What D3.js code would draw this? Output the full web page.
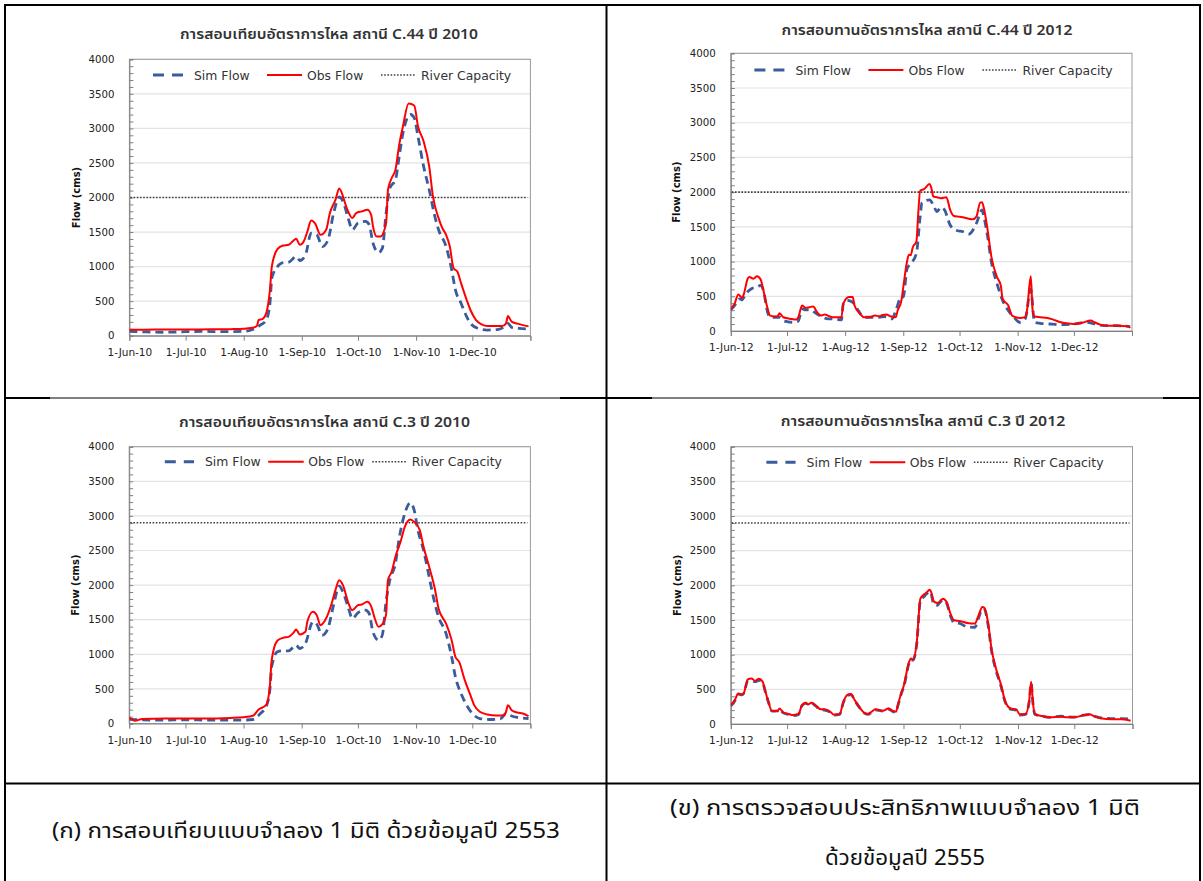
<!DOCTYPE html>
<html><head><meta charset="utf-8">
<script src="https://cdn.jsdelivr.net/npm/d3@7"></script>
<style>
body{margin:0;background:#fff}
svg{display:block}
.lat{font-family:"DejaVu Sans",Verdana,sans-serif}
.thai{font-family:"Noto Sans Thai","Noto Sans Thai UI",Tahoma,Loma,Garuda,"Noto Sans","DejaVu Sans",sans-serif}
</style></head>
<body><svg id="c" width="1203" height="881"></svg>
<script>
// ---------------- data ----------------
const titles = [
  "การสอบเทียบอัตราการไหล สถานี C.44 ปี 2010",
  "การสอบทานอัตราการไหล สถานี C.44 ปี 2012",
  "การสอบเทียบอัตราการไหล สถานี C.3 ปี 2010",
  "การสอบทานอัตราการไหล สถานี C.3 ปี 2012"
];
const captionLeft = ["(ก) การสอบเทียบแบบจำลอง 1 มิติ ด้วยข้อมูลปี 2553"];
const captionRight = ["(ข) การตรวจสอบประสิทธิภาพแบบจำลอง 1 มิติ", "ด้วยข้อมูลปี 2555"];
const legendLabels = ["Sim Flow", "Obs Flow", "River Capacity"];
const yAxisTitle = "Flow (cms)";
const yTicks = [0, 500, 1000, 1500, 2000, 2500, 3000, 3500, 4000];
const years = [2010, 2012, 2010, 2012];
const capacityC44 = 2000;
const capacityC3 = 2900;

const simC44_2010 = [["06-01",62],["06-10",55],["06-20",50],["07-01",58],["07-10",62],["07-20",58],["08-01",62],["08-05",82],["08-10",155],["08-13",227],["08-15",469],["08-16",832],["08-19",1000],["08-22",1059],["08-25",1064],["08-29",1146],["08-31",1088],["09-03",1170],["09-06",1484],["09-09",1460],["09-12",1291],["09-15",1388],["09-18",1775],["09-21",2007],["09-23",1944],["09-26",1678],["09-28",1533],["10-01",1630],["10-05",1654],["10-07",1605],["10-09",1339],["10-12",1204],["10-14",1267],["10-16",1775],["10-18",2137],["10-21",2258],["10-23",2596],["10-25",2935],["10-29",3201],["10-31",3152],["11-02",2886],["11-05",2451],["11-08",2113],["11-11",1726],["11-13",1533],["11-17",1291],["11-20",952],["11-22",662],["11-25",469],["11-28",276],["11-30",179],["12-04",106],["12-09",82],["12-15",92],["12-18",131],["12-20",179],["12-22",121],["12-26",106],["12-31",97]];
const obsC44_2010 = [["06-01",85],["06-15",88],["07-01",90],["07-15",92],["07-25",95],["08-01",100],["08-05",110],["08-08",140],["08-09",227],["08-11",240],["08-13",324],["08-15",662],["08-16",1000],["08-19",1252],["08-22",1305],["08-25",1315],["08-28",1388],["08-29",1402],["08-31",1315],["09-02",1363],["09-04",1508],["09-06",1668],["09-08",1630],["09-11",1460],["09-14",1533],["09-16",1775],["09-19",1968],["09-21",2132],["09-22",2089],["09-25",1847],["09-28",1702],["09-30",1775],["10-03",1799],["10-06",1823],["10-08",1750],["10-09",1581],["10-11",1436],["10-13",1436],["10-16",1630],["10-17",2113],["10-19",2282],["10-21",2403],["10-23",2766],["10-25",3032],["10-28",3360],["10-31",3331],["11-02",3032],["11-05",2814],["11-08",2451],["11-10",2016],["11-13",1702],["11-15",1557],["11-17",1460],["11-19",1291],["11-21",977],["11-23",928],["11-25",759],["11-28",517],["11-30",372],["12-03",227],["12-06",164],["12-09",140],["12-17",140],["12-19",179],["12-20",285],["12-22",203],["12-25",175],["12-31",135]];

const simC44_2012 = [["06-01",304],["06-03",367],["06-06",464],["06-07",449],["06-09",536],["06-12",609],["06-15",633],["06-17",657],["06-19",512],["06-20",343],["06-22",198],["06-25",198],["06-27",198],["06-29",150],["07-01",135],["07-04",126],["07-07",140],["07-09",319],["07-11",304],["07-13",304],["07-17",246],["07-20",198],["07-23",174],["07-26",174],["07-30",159],["07-31",391],["08-02",440],["08-05",415],["08-08",295],["08-11",198],["08-15",198],["08-19",198],["08-22",208],["08-26",174],["08-28",295],["08-31",488],["09-01",488],["09-03",898],["09-05",971],["09-08",1116],["09-10",1647],["09-11",1850],["09-15",1889],["09-17",1816],["09-19",1720],["09-21",1782],["09-23",1744],["09-26",1526],["09-29",1454],["10-03",1430],["10-06",1396],["10-10",1550],["10-13",1744],["10-14",1647],["10-16",1357],["10-18",995],["10-21",681],["10-24",440],["10-27",295],["10-30",198],["11-02",126],["11-05",174],["11-08",600],["11-10",126],["11-13",111],["11-18",101],["11-24",92],["12-01",101],["12-08",126],["12-12",101],["12-17",77],["12-24",77],["12-31",63]];
const obsC44_2012 = [["06-01",319],["06-03",391],["06-05",526],["06-07",478],["06-08",536],["06-10",753],["06-11",778],["06-13",753],["06-15",787],["06-17",739],["06-18",633],["06-20",391],["06-22",222],["06-25",208],["06-26",213],["06-27",256],["06-29",198],["07-01",184],["07-03",174],["07-06",164],["07-07",198],["07-09",367],["07-11",333],["07-13",343],["07-15",353],["07-17",270],["07-19",222],["07-21",237],["07-24",208],["07-26",198],["07-30",198],["07-31",391],["08-03",488],["08-05",488],["08-06",367],["08-09",246],["08-11",198],["08-14",198],["08-17",222],["08-19",213],["08-21",232],["08-23",237],["08-25",213],["08-28",198],["08-29",295],["08-31",440],["09-01",633],["09-03",1000],["09-04",1100],["09-05",1090],["09-06",1200],["09-08",1290],["09-09",1700],["09-10",2024],["09-12",2043],["09-15",2116],["09-16",2058],["09-17",1937],["09-19",1927],["09-21",1913],["09-24",1927],["09-26",1744],["09-28",1657],["10-01",1647],["10-05",1623],["10-08",1608],["10-10",1647],["10-12",1850],["10-13",1855],["10-14",1768],["10-16",1454],["10-18",1067],["10-21",778],["10-23",657],["10-24",464],["10-27",367],["10-29",222],["10-31",198],["11-02",188],["11-05",198],["11-06",295],["11-08",787],["11-09",295],["11-10",208],["11-13",198],["11-17",188],["11-20",164],["11-24",126],["11-27",111],["12-01",101],["12-05",116],["12-10",150],["12-12",126],["12-15",92],["12-19",77],["12-24",77],["12-30",68],["12-31",43]];

const simC3_2010 = [["06-01",60],["06-15",50],["07-01",52],["07-15",50],["08-01",50],["08-06",58],["08-10",145],["08-13",241],["08-15",482],["08-16",819],["08-19",1036],["08-22",1050],["08-25",1050],["08-29",1132],["08-31",1084],["09-03",1156],["09-07",1469],["09-09",1435],["09-12",1277],["09-15",1373],["09-18",1710],["09-21",1985],["09-23",1903],["09-26",1662],["09-28",1517],["10-01",1599],["10-05",1638],["10-07",1590],["10-09",1325],["10-12",1204],["10-14",1277],["10-16",1758],["10-18",2071],["10-21",2312],["10-23",2673],["10-26",3035],["10-29",3189],["10-31",3083],["11-02",2794],["11-05",2505],["11-08",2119],["11-10",1855],["11-13",1541],["11-17",1301],["11-20",963],["11-22",674],["11-25",434],["11-28",265],["12-01",145],["12-05",72],["12-10",58],["12-16",67],["12-19",145],["12-21",120],["12-25",87],["12-31",72]];
const obsC3_2010 = [["06-01",87],["06-04",40],["06-08",65],["06-20",72],["07-10",72],["07-25",80],["08-01",90],["08-06",111],["08-09",202],["08-13",265],["08-15",530],["08-16",915],["08-19",1195],["08-22",1238],["08-25",1252],["08-28",1325],["08-29",1358],["08-31",1286],["09-03",1325],["09-04",1469],["09-07",1614],["09-09",1566],["09-11",1421],["09-14",1517],["09-17",1734],["09-19",1927],["09-21",2071],["09-23",1999],["09-26",1734],["09-28",1638],["10-01",1710],["10-03",1720],["10-06",1758],["10-08",1696],["10-10",1517],["10-12",1397],["10-14",1435],["10-16",1566],["10-17",2071],["10-19",2192],["10-21",2409],["10-24",2649],["10-26",2842],["10-29",2948],["10-31",2914],["11-03",2794],["11-05",2553],["11-08",2264],["11-11",1951],["11-13",1662],["11-17",1445],["11-20",1204],["11-22",963],["11-24",891],["11-27",626],["11-30",409],["12-02",265],["12-05",169],["12-09",130],["12-14",116],["12-18",116],["12-19",169],["12-20",265],["12-22",193],["12-25",159],["12-28",145],["12-31",106]];

const simC3_2012 = [["06-01",260],["06-03",330],["06-05",430],["06-07",420],["06-08",445],["06-10",620],["06-12",625],["06-14",610],["06-16",630],["06-18",600],["06-19",505],["06-21",320],["06-23",185],["06-26",190],["06-27",215],["06-29",160],["07-02",135],["07-04",120],["07-07",135],["07-09",270],["07-11",300],["07-12",280],["07-14",300],["07-16",265],["07-19",205],["07-21",200],["07-24",170],["07-26",130],["07-29",140],["07-31",315],["08-02",410],["08-04",425],["08-06",340],["08-09",220],["08-11",160],["08-13",140],["08-15",170],["08-17",205],["08-21",185],["08-24",215],["08-26",185],["08-28",170],["08-29",260],["08-31",450],["09-01",520],["09-04",880],["09-05",930],["09-06",920],["09-08",1140],["09-10",1780],["09-12",1840],["09-13",1870],["09-15",1910],["09-16",1850],["09-17",1730],["09-19",1712],["09-20",1740],["09-22",1790],["09-24",1740],["09-26",1560],["09-28",1460],["10-01",1450],["10-05",1400],["10-09",1395],["10-11",1530],["10-13",1660],["10-14",1660],["10-16",1440],["10-18",1040],["10-20",800],["10-23",540],["10-25",330],["10-28",215],["10-31",200],["11-02",130],["11-05",140],["11-07",330],["11-08",590],["11-09",290],["11-10",140],["11-14",110],["11-18",95],["11-24",115],["11-27",105],["12-01",100],["12-05",125],["12-09",135],["12-12",110],["12-15",90],["12-21",77],["12-26",77],["12-31",70]];
const obsC3_2012 = [["06-01",273],["06-03",336],["06-05",441],["06-07",427],["06-08",451],["06-10",643],["06-12",657],["06-14",623],["06-16",652],["06-18",609],["06-19",513],["06-21",321],["06-23",187],["06-26",192],["06-27",225],["06-29",163],["07-02",144],["07-04",129],["07-07",144],["07-09",273],["07-11",307],["07-12",283],["07-14",307],["07-16",273],["07-19",211],["07-21",211],["07-24",177],["07-26",134],["07-29",144],["07-31",321],["08-02",417],["08-04",432],["08-06",345],["08-09",225],["08-11",163],["08-13",144],["08-15",177],["08-17",211],["08-21",192],["08-24",225],["08-26",192],["08-28",177],["08-29",273],["08-31",465],["09-01",537],["09-04",897],["09-05",945],["09-06",930],["09-08",1161],["09-10",1808],["09-12",1870],["09-13",1890],["09-15",1938],["09-16",1880],["09-17",1775],["09-19",1746],["09-20",1760],["09-22",1808],["09-24",1760],["09-26",1592],["09-28",1496],["10-01",1487],["10-05",1458],["10-09",1448],["10-11",1568],["10-13",1688],["10-14",1679],["10-16",1472],["10-18",1065],["10-20",825],["10-23",561],["10-25",345],["10-28",225],["10-31",211],["11-02",139],["11-05",144],["11-07",345],["11-08",609],["11-09",297],["11-10",144],["11-14",115],["11-18",96],["11-24",106],["11-27",96],["12-01",96],["12-05",120],["12-09",139],["12-12",106],["12-15",82],["12-21",67],["12-26",67],["12-31",48]];

const seriesSim = [simC44_2010, simC44_2012, simC3_2010, simC3_2012];
const seriesObs = [obsC44_2010, obsC44_2012, obsC3_2010, obsC3_2012];
const capacities = [capacityC44, capacityC44, capacityC3, capacityC3];

// ---------------- layout (positions only) ----------------
const legA = {d0:23.6,d1:54.6,t0:64.6,r0:137.6,r1:172.6,t1:177.6,c0:251.6,c1:285.6,t2:291.6};
const legB = {d0:35.6,d1:64.8,t0:75.8,r0:139,r1:174.5,t1:179,c0:243,c1:276.8,t2:282.5};
const layout = [
  {x0:129.4,x1:530.4,yT:59.3,yB:335.7,tX:329,tY:35,tW:298,lY:75,leg:legA,ylX:76},
  {x0:730.8,x1:1132,yT:53.3,yB:331,tX:927,tY:30.7,tW:291,lY:70,leg:legA,ylX:676},
  {x0:129.2,x1:530.4,yT:446.7,yB:723.5,tX:324.5,tY:422.7,tW:291,lY:461.7,leg:legB,ylX:75},
  {x0:730.8,x1:1132.5,yT:446.7,yB:724,tX:923,tY:422.3,tW:284.6,lY:462.3,leg:legB,ylX:677}
];

const SIM_COLOR = "#3a5c9c", OBS_COLOR = "#ff0000", CAP_COLOR = "#404040";

const svg = d3.select("#c");
svg.append("rect").attr("width",1203).attr("height",881).attr("fill","#fff");
const parse = d3.timeParse("%Y-%m-%d");
const fmt = d3.timeFormat("%-d-%b-%y");

layout.forEach((L, i) => {
  const yr = years[i];
  const g = svg.append("g");
  const x = d3.scaleTime().domain([new Date(yr,5,1), new Date(yr+1,0,1)]).range([L.x0, L.x1]);
  const y = d3.scaleLinear().domain([0,4000]).range([L.yB, L.yT]);

  // gridlines
  g.append("g").selectAll("line").data(yTicks.filter(v=>v>0)).join("line")
    .attr("x1",L.x0).attr("x2",L.x1).attr("y1",d=>y(d)).attr("y2",d=>y(d))
    .attr("stroke","#e3e3e3").attr("stroke-width",1.2);

  // frame
  g.append("rect").attr("x",L.x0).attr("y",L.yT).attr("width",L.x1-L.x0).attr("height",L.yB-L.yT)
    .attr("fill","none").attr("stroke","#9a9a9a").attr("stroke-width",1);

  // y axis minor ticks (inside) every 100
  const yAx = g.append("g").attr("transform",`translate(${L.x0},0)`)
    .call(d3.axisRight(y).tickValues(d3.range(0,4001,100)).tickSize(4).tickFormat(""));
  yAx.select(".domain").attr("stroke","#808080");
  yAx.selectAll(".tick line").attr("stroke","#808080");
  // y labels
  const yLab = g.append("g").attr("transform",`translate(${L.x0},0)`)
    .call(d3.axisLeft(y).tickValues(yTicks).tickSize(0).tickPadding(15).tickFormat(d3.format("d")));
  yLab.select(".domain").remove();
  yLab.selectAll("text").attr("class","lat").attr("font-size",10.2).attr("fill","#222");

  // x axis
  const months = d3.timeMonth.range(new Date(yr,5,1), new Date(yr+1,0,2));
  const xAx = g.append("g").attr("transform",`translate(0,${L.yB})`)
    .call(d3.axisBottom(x).tickValues(months).tickSize(5).tickPadding(8)
      .tickFormat(d => d.getFullYear() > yr ? "" : fmt(d)));
  xAx.select(".domain").attr("stroke","#808080");
  xAx.selectAll(".tick line").attr("stroke","#808080");
  xAx.selectAll("text").attr("class","lat").attr("font-size",10.5).attr("fill","#222");

  // clip
  const cid = "clip"+i;
  svg.append("clipPath").attr("id",cid).append("rect")
    .attr("x",L.x0).attr("y",L.yT).attr("width",L.x1-L.x0).attr("height",L.yB-L.yT);

  // river capacity
  g.append("line").attr("x1",L.x0+1).attr("x2",L.x1-3).attr("y1",y(capacities[i])).attr("y2",y(capacities[i]))
    .attr("stroke",CAP_COLOR).attr("stroke-width",1.6).attr("stroke-dasharray","1.6,1.6");

  const line = d3.line().x(d=>x(parse(yr+"-"+d[0]))).y(d=>y(d[1])).curve(d3.curveMonotoneX);
  g.append("path").datum(seriesSim[i]).attr("clip-path",`url(#${cid})`)
    .attr("d",line).attr("fill","none").attr("stroke",SIM_COLOR).attr("stroke-width",2.8)
    .attr("stroke-dasharray","8,5");
  g.append("path").datum(seriesObs[i]).attr("clip-path",`url(#${cid})`)
    .attr("d",line).attr("fill","none").attr("stroke",OBS_COLOR).attr("stroke-width",2);

  // title
  g.append("text").attr("class","thai").attr("x",L.tX).attr("y",L.tY).attr("text-anchor","middle")
    .attr("dominant-baseline","central").attr("font-size",13.5).attr("font-weight",600).attr("fill","#333")
    .attr("textLength",L.tW).attr("lengthAdjust","spacingAndGlyphs").text(titles[i]);

  // y title
  g.append("text").attr("class","lat").attr("transform",`translate(${L.ylX},${(L.yT+L.yB)/2}) rotate(-90)`)
    .attr("text-anchor","middle").attr("dominant-baseline","central").attr("font-size",10)
    .attr("font-weight","bold").attr("fill","#111").text(yAxisTitle);

  // legend
  const lg = L.leg, ly = L.lY;
  g.append("line").attr("x1",L.x0+lg.d0).attr("x2",L.x0+lg.d1).attr("y1",ly).attr("y2",ly)
    .attr("stroke",SIM_COLOR).attr("stroke-width",3).attr("stroke-dasharray","11,8");
  g.append("line").attr("x1",L.x0+lg.r0).attr("x2",L.x0+lg.r1).attr("y1",ly).attr("y2",ly)
    .attr("stroke",OBS_COLOR).attr("stroke-width",2);
  g.append("line").attr("x1",L.x0+lg.c0).attr("x2",L.x0+lg.c1).attr("y1",ly).attr("y2",ly)
    .attr("stroke",CAP_COLOR).attr("stroke-width",1.6).attr("stroke-dasharray","1.6,1.6");
  [[lg.t0,0],[lg.t1,1],[lg.t2,2]].forEach(([dx,k]) => {
    g.append("text").attr("class","lat").attr("x",L.x0+dx).attr("y",ly).attr("dominant-baseline","central")
      .attr("font-size",12.4).attr("fill","#333").text(legendLabels[k]);
  });
});

// ---------------- table ----------------
const T = svg.append("g").attr("stroke","#000").attr("fill","none");
T.append("line").attr("x1",5).attr("x2",5).attr("y1",4).attr("y2",881).attr("stroke-width",2);
T.append("line").attr("x1",1200).attr("x2",1200).attr("y1",4).attr("y2",881).attr("stroke-width",2);
T.append("line").attr("x1",4).attr("x2",1201).attr("y1",5).attr("y2",5).attr("stroke-width",2);
T.append("line").attr("x1",606.5).attr("x2",606.5).attr("y1",4).attr("y2",881).attr("stroke-width",2);
// row divider 1: thicker where chart pictures do not cover it
[[4,50,2],[50,560,1],[560,652,2],[652,1163,1],[1163,1201,2]].forEach(([a,b,w]) => {
  T.append("line").attr("x1",a).attr("x2",b).attr("y1",398).attr("y2",398).attr("stroke-width",w);
});
T.append("line").attr("x1",4).attr("x2",1201).attr("y1",783.5).attr("y2",783.5).attr("stroke-width",2.2);

// captions
svg.append("text").attr("class","thai").attr("x",306).attr("y",831).attr("text-anchor","middle")
  .attr("dominant-baseline","central").attr("font-size",22).attr("fill","#111")
  .attr("textLength",508).attr("lengthAdjust","spacingAndGlyphs").text(captionLeft[0]);
svg.append("text").attr("class","thai").attr("x",905).attr("y",808).attr("text-anchor","middle")
  .attr("dominant-baseline","central").attr("font-size",22).attr("fill","#111")
  .attr("textLength",470).attr("lengthAdjust","spacingAndGlyphs").text(captionRight[0]);
svg.append("text").attr("class","thai").attr("x",905).attr("y",858).attr("text-anchor","middle")
  .attr("dominant-baseline","central").attr("font-size",22).attr("fill","#111")
  .attr("textLength",160).attr("lengthAdjust","spacingAndGlyphs").text(captionRight[1]);
</script>
</body></html>
